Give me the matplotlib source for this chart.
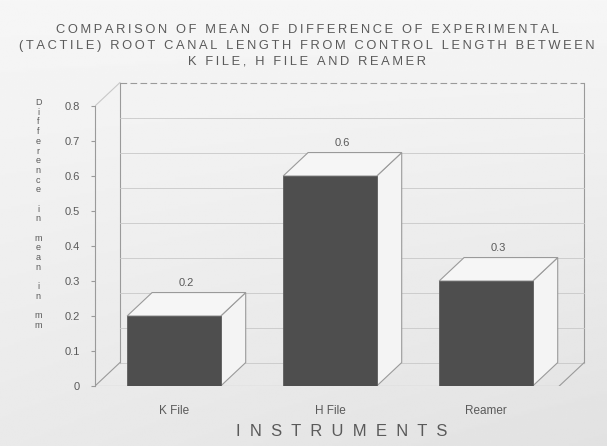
import numpy as np
import matplotlib
matplotlib.use('Agg')
import matplotlib.pyplot as plt
from matplotlib.patches import Polygon

# chart data
instruments = ['K File', 'H File', 'Reamer']
mean_diff = [0.2, 0.6, 0.3]
yticks = [0, 0.1, 0.2, 0.3, 0.4, 0.5, 0.6, 0.7, 0.8]
ytick_labels = ['0', '0.1', '0.2', '0.3', '0.4', '0.5', '0.6', '0.7', '0.8']
title = ['COMPARISON OF MEAN OF DIFFERENCE OF EXPERIMENTAL',
         '(TACTILE) ROOT CANAL LENGTH FROM CONTROL LENGTH BETWEEN',
         'K FILE, H FILE AND REAMER']
ylabel = 'Difference in mean in mm'
xlabel = 'INSTRUMENTS'

plt.rcParams['font.family'] = ['Liberation Sans', 'DejaVu Sans']
txt = '#5a5a5a'
edge = '#9a9a9a'

fig = plt.figure(figsize=(6.07, 4.46), dpi=100)

# soft grey paper background
bg = fig.add_axes([0, 0, 1, 1], zorder=-5)
yy, xx = np.mgrid[0:1:200j, 0:1:200j]
shade = 0.965 - 0.05 * yy - 0.03 * xx * yy
bg.imshow(shade, cmap='gray', vmin=0, vmax=1, aspect='auto',
          extent=[0, 1, 0, 1], origin='upper')
bg.axis('off')

ax = fig.add_axes([95 / 607, 60 / 446, 495 / 607, 308 / 446])
ax.patch.set_alpha(0)
x0, x1 = -0.506, 2.667
ax.set_xlim(x0, x1)
ax.set_ylim(0, 0.88)
dx, dy = 0.16, 0.067
wall_r = 2.63
floor_r = wall_r - dx
ymax = yticks[-1]

# back wall, side wall and floor outlines
ax.plot([x0 + dx, x0 + dx], [dy, ymax + dy], color=edge, lw=0.8)
ax.plot([wall_r, wall_r], [dy, ymax + dy], color=edge, lw=0.8)
ax.plot([x0 + dx, wall_r], [ymax + dy, ymax + dy], color=edge, lw=0.8, ls=(0, (6, 3)))
for t in yticks[:-1]:
    ax.plot([x0 + dx, wall_r], [t + dy, t + dy], color='#c8c8c8', lw=0.6)
ax.plot([x0, x0 + dx], [ymax, ymax + dy], color='#c8c8c8', lw=0.8)
ax.plot([x0, x0 + dx], [0, dy], color=edge, lw=0.8)
ax.plot([x0, floor_r], [0, 0], color=edge, lw=0.8)
ax.plot([floor_r, wall_r], [0, dy], color=edge, lw=0.8)

# bars: dark front face plus white top and side faces
pos = np.arange(len(instruments))
w = 0.6
for xi, v in zip(pos, mean_diff):
    l, r = xi - w / 2, xi + w / 2
    ax.add_patch(Polygon([(r, 0), (r + dx, dy), (r + dx, v + dy), (r, v)],
                         closed=True, facecolor='#f4f4f4', edgecolor=edge, lw=0.8, zorder=3))
    ax.add_patch(Polygon([(l, v), (r, v), (r + dx, v + dy), (l + dx, v + dy)],
                         closed=True, facecolor='#f6f6f6', edgecolor=edge, lw=0.8, zorder=3))
    ax.text(xi + dx / 2, v + dy + 0.012, f'{v:g}', ha='center', va='bottom',
            fontsize=8, color=txt)
ax.bar(pos, mean_diff, width=w, color='#4e4e4e', edgecolor='#5e5e5e', lw=0.6, zorder=4)

# axis styling
for s in ['top', 'right', 'bottom']:
    ax.spines[s].set_visible(False)
ax.spines['left'].set_bounds(0, ymax)
ax.spines['left'].set_color(edge)
ax.spines['left'].set_linewidth(0.8)
ax.set_yticks(yticks)
ax.set_yticklabels(ytick_labels, fontsize=8, color=txt)
ax.tick_params(axis='y', length=3, color=edge, pad=8)
ax.set_xticks(pos)
ax.set_xticklabels(instruments, fontsize=8.5, color=txt)
ax.tick_params(axis='x', length=0, pad=14)

# title, letter-spaced with thin spaces, one line at a time
for i, line in enumerate(title):
    fig.text(0.506, 1 - (30 + 16 * i) / 446, '\u2009'.join(line), ha='center',
             va='center', fontsize=9.3, color=txt)
fig.text(342 / 607, 1 - 432 / 446, '  '.join(xlabel), ha='center', va='center',
         fontsize=12, color=txt)
fig.text(38 / 607, 1 - 98 / 446, '\n'.join(ylabel), ha='center', va='top',
         fontsize=6.5, color=txt, linespacing=1.1)

fig.savefig('out.png', dpi=100)
